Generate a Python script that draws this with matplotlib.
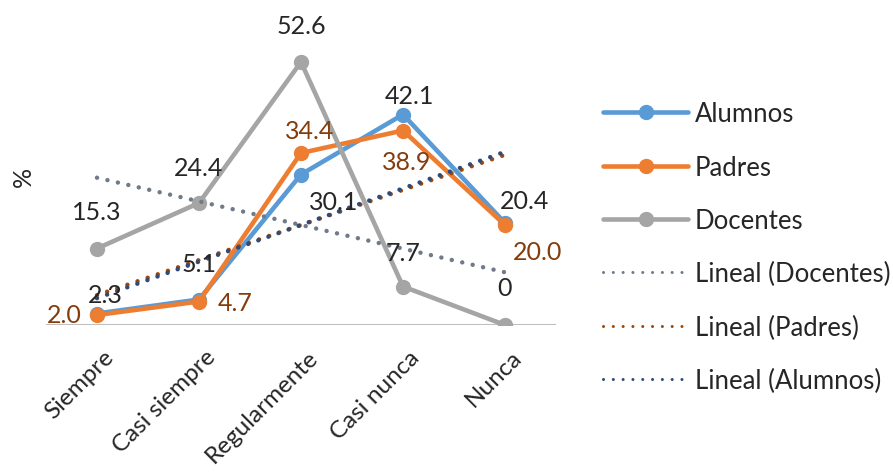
import numpy as np
import matplotlib.pyplot as plt
import matplotlib.transforms as mtransforms
from matplotlib.lines import Line2D

plt.rcParams['font.family'] = ['Lato', 'DejaVu Sans']

categories = ["Siempre", "Casi siempre", "Regularmente", "Casi nunca", "Nunca"]
alumnos = [2.3, 5.1, 30.1, 42.1, 20.4]
padres = [2.0, 4.7, 34.4, 38.9, 20.0]
docentes = [15.3, 24.4, 52.6, 7.7, 0]

alumnos_labels = ["2.3", "5.1", "30.1", "42.1", "20.4"]
padres_labels = ["2.0", "4.7", "34.4", "38.9", "20.0"]
docentes_labels = ["15.3", "24.4", "52.6", "7.7", "0"]

# label offsets in pixels (dx, dy) from each point
alumnos_off = [(8, 19), (0, 36), (33, -27), (6, 19), (20, 22)]
padres_off = [(-33, 0), (36, -1), (9, 22), (4, -31), (33, -27)]
docentes_off = [(0, 37), (0, 35), (0, 36), (0, 34), (0, 37)]

BLUE = "#5B9BD5"
ORANGE = "#ED7D31"
GRAY = "#A5A5A5"
LABEL_DARK = "#262626"
LABEL_BROWN = "#843C0C"

fig = plt.figure(figsize=(8.93, 4.77), dpi=100)
ax = fig.add_axes([46 / 893, 151 / 477, 510 / 893, 300 / 477])

x = np.arange(1, len(categories) + 1)

series = [
    ("Alumnos", alumnos, BLUE, alumnos_labels, alumnos_off, LABEL_DARK),
    ("Padres", padres, ORANGE, padres_labels, padres_off, LABEL_BROWN),
    ("Docentes", docentes, GRAY, docentes_labels, docentes_off, LABEL_DARK),
]

handles = []
for name, vals, color, labels, offs, lcol in series:
    ax.plot(x, vals, color=color, lw=3.3, marker="o", ms=10,
            solid_capstyle="round", solid_joinstyle="round", zorder=3)
    handles.append(Line2D([], [], color=color, lw=3.3, marker="o", ms=10,
                          solid_capstyle="round", label=name))
    for xi, v, txt, (dx, dy) in zip(x, vals, labels, offs):
        ax.annotate(txt, (xi, v), xytext=(dx, dy), textcoords="offset pixels",
                    ha="center", va="center", fontsize=18, color=lcol,
                    zorder=5)

# linear trend lines
trends = [
    ("Lineal (Docentes)", docentes, "#6F7B8B"),
    ("Lineal (Padres)", padres, "#9E480E"),
    ("Lineal (Alumnos)", alumnos, "#2E4B7A"),
]
for name, vals, color in trends:
    m, b = np.polyfit(x, vals, 1)
    ax.plot(x, m * x + b, color=color, lw=3.2, linestyle=(0, (0.01, 2.4)),
            dash_capstyle="round", zorder=4)
    handles.append(Line2D([], [], color=color, lw=2.2, linestyle=(0, (0.01, 3.2)),
                          dash_capstyle="round", label=name))

ax.set_xlim(0.5, 5.5)
ax.set_ylim(0, 60)
ax.axhline(0, color="#BFBFBF", lw=1.5, zorder=1)
for s in ax.spines.values():
    s.set_visible(False)
ax.set_yticks([])
ax.set_xticks(x)
ax.set_xticklabels(categories, rotation=45, ha="right", rotation_mode="anchor",
                   fontsize=17.5, color=LABEL_DARK)
ax.tick_params(axis="x", length=0, pad=15)
shift = mtransforms.ScaledTranslation(6 / 100, 0, fig.dpi_scale_trans)
for lbl in ax.get_xticklabels():
    lbl.set_transform(lbl.get_transform() + shift)

fig.text(23 / 893, 1 - 177 / 477, "%", rotation=90, ha="center", va="center",
         fontsize=18, color=LABEL_DARK)

fig.legend(handles=handles, loc="upper left", bbox_to_anchor=(593 / 893, 1 - 92 / 477),
           frameon=False, fontsize=18.5, handlelength=3.3, handletextpad=0.27,
           labelspacing=1.1, borderaxespad=0, labelcolor=LABEL_DARK)

fig.savefig("out.png", dpi=100)
